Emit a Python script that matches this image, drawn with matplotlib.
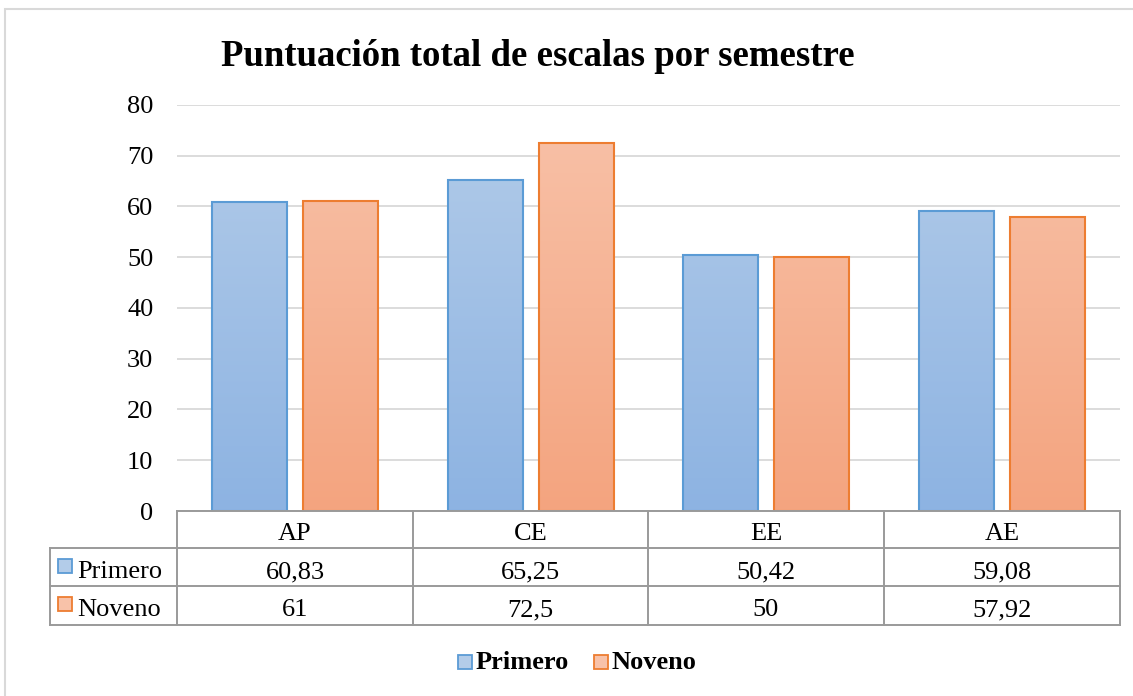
import matplotlib.pyplot as plt
import numpy as np
from matplotlib.patches import Rectangle

plt.rcParams['font.family'] = ['Liberation Serif', 'DejaVu Serif']

categories = ["AP", "CE", "EE", "AE"]
series_names = ["Primero", "Noveno"]
primero = [60.83, 65.25, 50.42, 59.08]
noveno = [61, 72.5, 50, 57.92]
primero_labels = ["60,83", "65,25", "50,42", "59,08"]
noveno_labels = ["61", "72,5", "50", "57,92"]
yticks = [0, 10, 20, 30, 40, 50, 60, 70, 80]

W, H = 1133, 696
fig = plt.figure(figsize=(W / 100, H / 100), dpi=100)

# chart area border
fig.patches.append(Rectangle((5 / W, -0.01), 1.1, (696 - 9) / H + 0.01,
                             transform=fig.transFigure, fill=False,
                             edgecolor="#D9D9D9", lw=1.5))

ax = fig.add_axes([177 / W, (H - 511) / H, (1120 - 177) / W, (511 - 105) / H])
ax.set_xlim(-0.5, 3.5)
ax.set_ylim(0, 80)
for s in ax.spines.values():
    s.set_visible(False)
ax.set_yticks(yticks)
ax.tick_params(axis="y", length=0, labelsize=19, pad=17)
ax.set_xticks([])
ax.grid(axis="y", color="#D9D9D9", lw=1.3)
ax.set_axisbelow(True)

x = np.arange(len(categories))
bw = 0.318
off = 0.193
grads = {
    "Primero": ("#B3CCE9", "#8DB3E2", "#5B9BD5"),
    "Noveno": ("#F8C2A9", "#F4A47F", "#ED7D31"),
}
for vals, name, sign in [(primero, "Primero", -1), (noveno, "Noveno", 1)]:
    top, bot, edge = grads[name]
    bars = ax.bar(x + sign * off, vals, bw, color="none", edgecolor=edge, lw=1.5, zorder=3)
    cmap = plt.matplotlib.colors.LinearSegmentedColormap.from_list(name, [bot, top])
    grad = np.linspace(0, 1, 256).reshape(-1, 1)
    for b in bars:
        im = ax.imshow(grad, cmap=cmap, aspect="auto", origin="lower",
                       extent=[b.get_x(), b.get_x() + b.get_width(), 0, 80], zorder=2)
        im.set_clip_path(b)

# data table below the axes
tr = fig.transFigure
def fx(px):
    return px / W
def fy(py):
    return (H - py) / H

col_edges = [177, 413, 648, 884, 1120]
row_edges = [511, 548, 586, 625]
lc = "#9A9A9A"
lw = 1.4
fs = 19
# horizontal lines
fig.add_artist(plt.Line2D([fx(177), fx(1120)], [fy(511), fy(511)], transform=tr, color=lc, lw=lw))
for ry in row_edges[1:]:
    fig.add_artist(plt.Line2D([fx(50), fx(1120)], [fy(ry), fy(ry)], transform=tr, color=lc, lw=lw))
# vertical lines
fig.add_artist(plt.Line2D([fx(50), fx(50)], [fy(548), fy(625)], transform=tr, color=lc, lw=lw))
for cx in col_edges:
    fig.add_artist(plt.Line2D([fx(cx), fx(cx)], [fy(511), fy(625)], transform=tr, color=lc, lw=lw))

for i, cat in enumerate(categories):
    cx = (col_edges[i] + col_edges[i + 1]) / 2
    fig.text(fx(cx), fy(540), cat, ha="center", va="baseline", fontsize=fs)
    fig.text(fx(cx), fy(578), primero_labels[i], ha="center", va="baseline", fontsize=fs)
    fig.text(fx(cx), fy(616), noveno_labels[i], ha="center", va="baseline", fontsize=fs)

for name, ry in [("Primero", 578), ("Noveno", 616)]:
    top, bot, edge = grads[name]
    fig.patches.append(Rectangle((fx(58), fy(ry - 5)), 14 / W, 14 / H, transform=tr,
                                 facecolor=top, edgecolor=edge, lw=1.3))
    fig.text(fx(77), fy(ry), name, ha="left", va="baseline", fontsize=fs)

# legend
for name, lx in [("Primero", 458), ("Noveno", 594)]:
    top, bot, edge = grads[name]
    fig.patches.append(Rectangle((fx(lx), fy(669)), 14 / W, 14 / H, transform=tr,
                                 facecolor=top, edgecolor=edge, lw=1.3))
    fig.text(fx(lx + 18), fy(669), name, ha="left", va="baseline", fontsize=fs, fontweight="bold")

fig.text(fx(538), fy(66), "Puntuación total de escalas por semestre", ha="center", va="baseline",
         fontsize=26.5, fontweight="bold")

fig.savefig("out.png", dpi=100)
